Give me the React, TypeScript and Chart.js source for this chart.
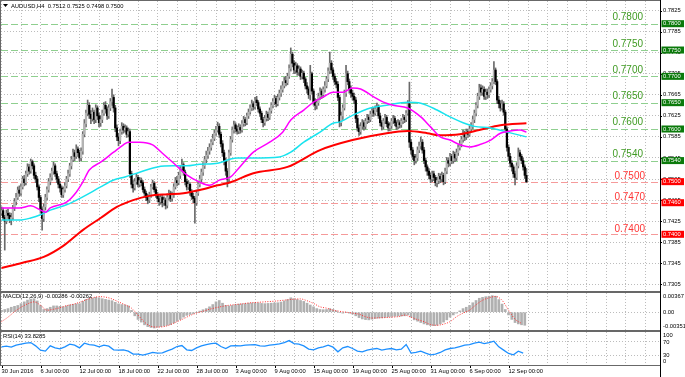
import React, { useEffect, useRef } from 'react';
import { Chart, registerables } from 'chart.js';

Chart.register(...registerables);

const FONT = "'Liberation Sans', Arial, sans-serif";

// ---------- data (prices in pips: 7445 = 0.7445) ----------
const titleText = 'AUDUSD,H4  0.7512 0.7525 0.7498 0.7500';
const firstOpen = 7440;
const closes = [
  7445, 7432, 7425, 7440, 7436, 7428, 7432, 7450, 7462, 7470,
  7484, 7478, 7490, 7505, 7498, 7515, 7528, 7520, 7538, 7530,
  7512, 7505, 7490, 7470, 7448, 7430, 7452, 7470, 7485, 7500,
  7508, 7520, 7530, 7515, 7505, 7495, 7488, 7475, 7485, 7492,
  7505, 7515, 7530, 7542, 7555, 7548, 7562, 7555, 7545, 7558,
  7590, 7610, 7630, 7645, 7628, 7620, 7632, 7618, 7640, 7625,
  7612, 7618, 7630, 7645, 7638, 7625, 7640, 7652, 7660, 7640,
  7602, 7585, 7578, 7595, 7605, 7598, 7602, 7590, 7595, 7515,
  7495, 7488, 7500, 7508, 7495, 7502, 7498, 7485, 7478, 7470,
  7465, 7475, 7490, 7497, 7485, 7475, 7468, 7462, 7470, 7460,
  7465, 7455, 7470, 7478, 7468, 7475, 7490, 7502, 7498, 7512,
  7525, 7532, 7518, 7500, 7490, 7495, 7480, 7472, 7468, 7460,
  7478, 7495, 7505, 7518, 7530, 7542, 7550, 7558, 7565, 7575,
  7582, 7592, 7598, 7605, 7590, 7572, 7555, 7540, 7520, 7505,
  7555, 7580, 7598, 7608, 7600, 7596, 7603, 7598, 7610, 7618,
  7612, 7625, 7632, 7640, 7648, 7642, 7655, 7650, 7638, 7630,
  7618, 7612, 7620, 7628, 7622, 7635, 7645, 7652, 7658, 7648,
  7660, 7668, 7675, 7682, 7692, 7688, 7700, 7715, 7742, 7725,
  7712, 7720, 7708, 7714, 7700, 7706, 7695, 7682, 7676, 7665,
  7705, 7672, 7652, 7645, 7650, 7662, 7672, 7665, 7675, 7682,
  7695, 7710, 7725, 7712, 7700, 7690, 7685, 7660, 7612, 7625,
  7640, 7668, 7705, 7690, 7675, 7668, 7662, 7655, 7620, 7602,
  7595, 7605, 7612, 7605, 7615, 7622, 7618, 7628, 7635, 7630,
  7638, 7642, 7625, 7612, 7605, 7615, 7622, 7610, 7602, 7606,
  7615, 7620, 7612, 7605, 7612, 7608, 7615, 7622, 7618, 7630,
  7648, 7575, 7560, 7548, 7540, 7545, 7560, 7568, 7575, 7560,
  7540, 7528, 7520, 7512, 7505, 7515, 7508, 7498, 7502, 7510,
  7505, 7512, 7500, 7520, 7540, 7535, 7548, 7540, 7552, 7545,
  7555, 7565, 7572, 7580, 7592, 7585, 7595, 7590, 7600, 7605,
  7618, 7630, 7645, 7662, 7678, 7670, 7675, 7662, 7670, 7665,
  7675, 7682, 7690, 7712, 7690, 7655, 7648, 7640, 7648, 7632,
  7600, 7565, 7548, 7535, 7528, 7515, 7508, 7530, 7555, 7548,
  7540, 7528, 7512, 7500,
];
const highs = [
  7452, 7450, 7436, 7446, 7448, 7441, 7440, 7455, 7468, 7478,
  7490, 7492, 7496, 7510, 7512, 7520, 7534, 7533, 7543, 7541,
  7534, 7518, 7510, 7494, 7474, 7452, 7458, 7476, 7490, 7506,
  7515, 7526, 7537, 7534, 7520, 7510, 7500, 7492, 7490, 7498,
  7510, 7522, 7535, 7548, 7562, 7560, 7570, 7566, 7560, 7564,
  7595, 7618, 7636, 7655, 7650, 7635, 7640, 7636, 7646, 7644,
  7630, 7625, 7636, 7650, 7652, 7642, 7646, 7658, 7676, 7665,
  7645, 7608, 7592, 7600, 7612, 7610, 7608, 7606, 7602, 7600,
  7520, 7502, 7506, 7515, 7512, 7508, 7507, 7502, 7490, 7482,
  7476, 7480, 7495, 7503, 7500, 7490, 7480, 7473, 7476, 7474,
  7471, 7469, 7476, 7484, 7482, 7480, 7496, 7508, 7510, 7518,
  7530, 7543, 7536, 7522, 7505, 7502, 7498, 7485, 7478, 7472,
  7484, 7500, 7512, 7524, 7536, 7548, 7558, 7565, 7572, 7580,
  7590, 7598, 7605, 7613, 7610, 7594, 7578, 7560, 7545, 7525,
  7560, 7586, 7604, 7615, 7612, 7606, 7610, 7608, 7616, 7624,
  7622, 7630, 7638, 7646, 7655, 7652, 7660, 7662, 7654, 7642,
  7634, 7622, 7626, 7634, 7632, 7640, 7650, 7658, 7664, 7662,
  7666, 7674, 7682, 7690, 7698, 7700, 7706, 7722, 7754, 7746,
  7730, 7727, 7724, 7720, 7718, 7712, 7710, 7698, 7688, 7680,
  7721, 7708, 7676, 7658, 7656, 7668, 7678, 7676, 7680, 7690,
  7700, 7716, 7746, 7730, 7716, 7705, 7696, 7690, 7664, 7632,
  7646, 7674, 7721, 7710, 7695, 7682, 7674, 7668, 7660, 7626,
  7608, 7612, 7618, 7616, 7620, 7628, 7627, 7634, 7641, 7640,
  7644, 7649, 7646, 7630, 7616, 7620, 7628, 7626, 7614, 7612,
  7620, 7626, 7624, 7616, 7618, 7616, 7620, 7628, 7626, 7635,
  7654, 7689, 7580, 7565, 7552, 7552, 7566, 7575, 7585, 7580,
  7565, 7545, 7532, 7525, 7516, 7520, 7520, 7512, 7508, 7516,
  7515, 7518, 7516, 7526, 7546, 7545, 7554, 7552, 7558, 7556,
  7562, 7570, 7578, 7586, 7598, 7596, 7600, 7600, 7606, 7612,
  7624, 7636, 7650, 7668, 7685, 7684, 7682, 7680, 7676, 7676,
  7680, 7688, 7696, 7728, 7716, 7694, 7662, 7654, 7655, 7652,
  7636, 7604, 7570, 7554, 7540, 7532, 7520, 7536, 7564, 7560,
  7552, 7545, 7532, 7525,
];
const lows = [
  7436, 7428, 7370, 7420, 7430, 7422, 7418, 7428, 7445, 7456,
  7466, 7472, 7474, 7486, 7492, 7494, 7510, 7514, 7516, 7524,
  7506, 7498, 7484, 7462, 7440, 7408, 7424, 7446, 7465, 7480,
  7494, 7503, 7514, 7510, 7498, 7488, 7480, 7470, 7470, 7480,
  7488, 7500, 7510, 7524, 7538, 7540, 7544, 7548, 7538, 7540,
  7552, 7585, 7604, 7625, 7620, 7610, 7615, 7610, 7612, 7618,
  7604, 7605, 7612, 7626, 7630, 7618, 7620, 7635, 7645, 7632,
  7595, 7578, 7568, 7572, 7590, 7592, 7594, 7584, 7585, 7508,
  7488, 7480, 7484, 7495, 7490, 7490, 7492, 7480, 7472, 7464,
  7458, 7460, 7470, 7486, 7480, 7470, 7462, 7455, 7457, 7452,
  7455, 7448, 7450, 7465, 7462, 7463, 7470, 7486, 7492, 7494,
  7506, 7520, 7512, 7494, 7484, 7485, 7474, 7466, 7460, 7421,
  7455, 7474, 7490, 7500, 7512, 7525, 7536, 7544, 7552, 7560,
  7570, 7578, 7588, 7594, 7584, 7566, 7548, 7532, 7512, 7490,
  7500, 7550, 7575, 7592, 7594, 7590, 7591, 7592, 7594, 7605,
  7606, 7608, 7620, 7628, 7635, 7636, 7638, 7644, 7632, 7624,
  7612, 7604, 7607, 7615, 7616, 7618, 7630, 7640, 7646, 7642,
  7644, 7655, 7662, 7670, 7678, 7682, 7684, 7696, 7710, 7718,
  7705, 7706, 7702, 7702, 7694, 7695, 7688, 7676, 7668, 7658,
  7655, 7666, 7645, 7636, 7638, 7645, 7656, 7658, 7660, 7670,
  7678, 7690, 7705, 7706, 7694, 7684, 7678, 7654, 7604, 7606,
  7618, 7636, 7662, 7684, 7668, 7660, 7655, 7648, 7612, 7596,
  7588, 7590, 7600, 7598, 7600, 7610, 7612, 7614, 7624, 7624,
  7626, 7633, 7620, 7606, 7598, 7600, 7610, 7604, 7596, 7597,
  7601, 7610, 7606, 7599, 7600, 7602, 7603, 7610, 7612, 7614,
  7626, 7565, 7552, 7542, 7532, 7535, 7540, 7555, 7562, 7554,
  7534, 7520, 7512, 7505, 7498, 7500, 7502, 7492, 7490, 7496,
  7498, 7500, 7494, 7496, 7515, 7528, 7530, 7534, 7535, 7538,
  7540, 7550, 7560, 7566, 7575, 7578, 7580, 7584, 7586, 7595,
  7600, 7612, 7625, 7640, 7656, 7664, 7664, 7656, 7656, 7658,
  7660, 7670, 7676, 7686, 7684, 7648, 7640, 7634, 7636, 7626,
  7594, 7558, 7540, 7528, 7520, 7508, 7494, 7504, 7526, 7542,
  7534, 7522, 7506, 7498,
];

// moving averages (bar index, value in pips)
const maFastBars = [0, 11, 18, 24, 27, 30, 40, 46, 50, 54, 61, 69, 75, 78, 85, 93, 99, 106, 114, 122, 128, 134, 141, 145, 155, 165, 173, 178, 186, 192, 198, 204, 210, 216, 221, 229, 235, 241, 250, 258, 264, 270, 276, 282, 288, 294, 301, 307, 313, 319, 323];
const maFastValues = [7450, 7450, 7454, 7446, 7442, 7450, 7461, 7480, 7499, 7522, 7537, 7556, 7570, 7575, 7575, 7570, 7554, 7535, 7513, 7499, 7493, 7503, 7509, 7522, 7556, 7575, 7594, 7617, 7636, 7651, 7661, 7670, 7670, 7678, 7676, 7661, 7651, 7645, 7640, 7623, 7604, 7585, 7579, 7570, 7566, 7570, 7579, 7592, 7596, 7598, 7594];
const maMidBars = [0, 11, 18, 24, 30, 40, 50, 61, 69, 76, 85, 96, 106, 114, 122, 133, 141, 145, 155, 171, 178, 186, 196, 204, 208, 216, 227, 237, 250, 258, 268, 276, 284, 291, 301, 310, 323];
const maMidValues = [7427, 7427, 7431, 7437, 7446, 7456, 7471, 7490, 7503, 7509, 7518, 7528, 7530, 7530, 7533, 7535, 7543, 7545, 7545, 7547, 7556, 7575, 7594, 7611, 7613, 7626, 7640, 7645, 7651, 7649, 7636, 7623, 7612, 7605, 7602, 7595, 7585];
const maSlowBars = [0, 13, 26, 38, 50, 61, 71, 81, 91, 102, 112, 122, 133, 141, 155, 176, 196, 216, 237, 250, 262, 270, 282, 294, 307, 323];
const maSlowValues = [7336, 7346, 7357, 7378, 7408, 7431, 7452, 7465, 7473, 7476, 7478, 7484, 7493, 7499, 7516, 7528, 7560, 7579, 7592, 7596, 7592, 7588, 7590, 7598, 7607, 7611];

// MACD main (every 2nd bar) and signal (every 4th bar), in 1e-5
const macdStep = 2;
const macdMain = [
  40, 60, 80, 110, 130, 150, 190, 230, 270, 290,
  300, 250, 150, 60, 80, 110, 140, 140, 130, 120,
  140, 160, 175, 185, 190, 240, 285, 300, 310, 330,
  320, 300, 285, 270, 255, 220, 185, 170, 160, 140,
  40, -80, -160, -220, -280, -320, -340, -351, -335, -320,
  -305, -290, -275, -240, -200, -160, -110, -70, -50, -30,
  -5, 25, 55, 80, 120, 170, 230, 260, 200, 150,
  140, 150, 170, 180, 185, 190, 200, 205, 210, 205,
  195, 190, 195, 200, 205, 210, 225, 250, 280, 320,
  300, 280, 260, 240, 200, 160, 120, 80, 60, 55,
  60, 80, 60, 30, -10, -20, 0, -20, -40, -80,
  -120, -150, -165, -170, -155, -140, -130, -125, -115, -105,
  -95, -90, -85, -85, -80, -60, -110, -170, -200, -230,
  -260, -280, -295, -300, -290, -260, -220, -170, -110, -60,
  -20, 30, 80, 110, 150, 210, 260, 310, 330, 345,
  355, 367, 355, 280, 180, 60, -60, -160, -230, -260,
  -280, -290,
];
const signalStep = 4;
const macdSignal = [
  -210, -110, 10, 110, 185, 230, 155, 45, 65, 100,
  145, 175, 220, 275, 320, 345, 335, 295, 230, 165,
  90, -65, -220, -315, -330, -320, -275, -210, -145, -75,
  -20, 20, 65, 100, 130, 155, 170, 185, 205, 215,
  225, 235, 245, 260, 275, 290, 295, 255, 195, 120,
  90, 45, 20, 0, -20, -45, -100, -130, -125, -120,
  -110, -100, -65, -110, -165, -210, -275, -290, -265, -210,
  -100, -20, 45, 165, 265, 320, 350, 265, 45, -155,
  -250,
];
// RSI(14) every 3rd bar
const rsiStep = 3;
const rsiValues = [
  55, 57, 54, 60, 63, 66, 68, 58, 45, 42,
  58, 52, 49, 55, 63, 60, 52, 66, 62, 60,
  55, 60, 57, 46, 45, 46, 42, 33, 33, 30,
  34, 38, 36, 37, 43, 48, 56, 59, 46, 44,
  52, 58, 62, 65, 66, 56, 50, 58, 59, 58,
  60, 61, 62, 58, 57, 60, 62, 64, 68, 74,
  65, 63, 58, 48, 46, 52, 55, 60, 54, 40,
  52, 56, 50, 42, 40, 45, 48, 50, 45, 48,
  50, 46, 48, 62, 36, 38, 42, 36, 31, 33,
  38, 46, 50, 52, 56, 60, 62, 66, 69, 65,
  68, 72, 55, 45, 35, 31, 42, 36,
];

const xLabelBars = [0, 24, 48, 72, 96, 120, 144, 168, 192, 216, 240, 264, 288, 312];
const xLabels = ['30 Jun 2016', '6 Jul 00:00', '12 Jul 00:00', '18 Jul 00:00', '22 Jul 00:00', '28 Jul 00:00', '3 Aug 00:00', '9 Aug 00:00', '15 Aug 00:00', '19 Aug 00:00', '25 Aug 00:00', '31 Aug 00:00', '6 Sep 00:00', '12 Sep 00:00'];
const priceTicks = [0.7825, 0.7785, 0.7745, 0.7705, 0.7665, 0.7625, 0.7585, 0.7545, 0.7505, 0.7465, 0.7425, 0.7385, 0.7345, 0.7305];
const greenLevels = [0.78, 0.775, 0.77, 0.765, 0.76, 0.754];
const greenLevelTexts = ['0.7800', '0.7750', '0.7700', '0.7650', '0.7600', '0.7540'];
const redLevels = [0.75, 0.746, 0.74];
const redLevelTexts = ['0.7500', '0.7470', '0.7400'];
const redLevelBoxTexts = ['0.7500', '0.7460', '0.7400'];
const macdTitle = 'MACD(12,26,9) -0.00286 -0.00262';
const macdTickValues = [0.00367, 0, -0.00351];
const macdTickTexts = ['0.00367', '0.00', '-0.00351'];
const rsiTitle = 'RSI(14) 33.8285';
const rsiTickValues = [100, 70, 30, 0];
const rsiGridValues = [70, 30];

// ---------- layout constants ----------
const W = 685;
const X_MIN = -0.31;
const X_MAX = 405.2;
const AXIS_W = 25;
const GRID = '#bcbcbc';
const P = (v: number) => v / 10000;

const bars = closes.map((_, i) => i);
const opens = closes.map((_, i) => (i === 0 ? firstOpen : closes[i - 1]));
const gridStep = (xLabelBars[1] - xLabelBars[0]) / 2;
const gridBars: number[] = [];
for (let b = 0; b <= X_MAX; b += gridStep) gridBars.push(b);

function xScale(extra: any = {}) {
  return {
    type: 'linear',
    min: X_MIN,
    max: X_MAX,
    offset: false,
    afterBuildTicks: (s: any) => { s.ticks = gridBars.map((v) => ({ value: v })); },
    afterFit: (s: any) => { s.height = 0; },
    ticks: { display: false },
    grid: { color: GRID, drawTicks: false, offset: false, lineWidth: 1 },
    border: { display: false, dash: [1, 2] },
    ...extra,
  };
}
function yScale(min: number, max: number, gridVals: number[]) {
  return {
    type: 'linear',
    position: 'right',
    min,
    max,
    beginAtZero: false,
    afterBuildTicks: (s: any) => { s.ticks = gridVals.map((v) => ({ value: v })); },
    afterFit: (s: any) => { s.width = AXIS_W; },
    ticks: { display: false },
    grid: { color: GRID, drawTicks: false, lineWidth: 1 },
    border: { display: false, dash: [1, 2] },
  };
}

const framePlugin = {
  id: 'frame',
  afterDraw(chart: any) {
    const { ctx, chartArea: a } = chart;
    ctx.save();
    ctx.strokeStyle = '#686868';
    ctx.lineWidth = 1;
    ctx.strokeRect(a.left - 0.5, a.top - 0.5, a.right - a.left + 1, a.bottom - a.top + 1);
    ctx.strokeStyle = '#000';
    ctx.beginPath();
    ctx.moveTo(a.right + 0.5, 0);
    ctx.lineTo(a.right + 0.5, chart.height);
    ctx.stroke();
    ctx.restore();
  },
};

function sideLabels(values: number[], texts: string[], margin: number) {
  return {
    id: 'sideLabels',
    afterDraw(chart: any) {
      const { ctx, chartArea: a } = chart;
      const y = chart.scales.y;
      ctx.save();
      ctx.font = `5.8px ${FONT}`;
      ctx.fillStyle = '#000';
      ctx.textBaseline = 'middle';
      ctx.textAlign = 'left';
      values.forEach((v, i) => {
        let py = y.getPixelForValue(v);
        py = Math.min(Math.max(py, a.top + margin), a.bottom - margin);
        ctx.fillText(texts[i], a.right + 3, py);
      });
      ctx.restore();
    },
  };
}

function panelTitle(text: string, y: number) {
  return {
    id: 'panelTitle',
    afterDraw(chart: any) {
      const { ctx, chartArea: a } = chart;
      ctx.save();
      ctx.font = `5.8px ${FONT}`;
      ctx.fillStyle = '#000';
      ctx.textBaseline = 'middle';
      ctx.fillText(text, a.left + 2, y);
      ctx.restore();
    },
  };
}

const mainPlugin = {
  id: 'mainDeco',
  beforeDatasetsDraw(chart: any) {
    const { ctx, chartArea: a } = chart;
    const y = chart.scales.y;
    ctx.save();
    ctx.lineWidth = 1;
    ctx.setLineDash([7, 3]);
    const drawLevel = (v: number, color: string) => {
      const py = Math.round(y.getPixelForValue(v)) + 0.5;
      ctx.strokeStyle = color;
      ctx.beginPath();
      ctx.moveTo(a.left, py);
      ctx.lineTo(a.right, py);
      ctx.stroke();
    };
    greenLevels.forEach((v) => drawLevel(v, '#8fcf8f'));
    redLevels.forEach((v) => drawLevel(v, '#f59a9a'));
    ctx.setLineDash([]);
    ctx.font = `10px ${FONT}`;
    ctx.textAlign = 'right';
    ctx.textBaseline = 'alphabetic';
    ctx.fillStyle = '#3f9a22';
    greenLevels.forEach((v, i) => ctx.fillText(greenLevelTexts[i], a.right - 17, y.getPixelForValue(v) - 3.5));
    ctx.fillStyle = '#ff3535';
    redLevels.forEach((v, i) => ctx.fillText(redLevelTexts[i], a.right - 15, y.getPixelForValue(v) - 2.5));
    ctx.restore();
  },
  afterDraw(chart: any) {
    const { ctx, chartArea: a } = chart;
    const y = chart.scales.y;
    ctx.save();
    ctx.font = `5.8px ${FONT}`;
    ctx.textBaseline = 'middle';
    ctx.textAlign = 'left';
    ctx.fillStyle = '#000';
    priceTicks.forEach((v) => {
      const py = y.getPixelForValue(v);
      ctx.fillRect(a.right, Math.round(py), 2, 1);
      ctx.fillText(v.toFixed(4), a.right + 3, py);
    });
    const box = (v: number, text: string, fill: string) => {
      const py = y.getPixelForValue(v);
      ctx.fillStyle = fill;
      ctx.fillRect(a.right + 1.5, py - 3.5, 22.5, 7);
      ctx.fillStyle = '#fff';
      ctx.fillText(text, a.right + 3, py);
    };
    greenLevels.forEach((v, i) => box(v, greenLevelTexts[i], '#0b7a0b'));
    redLevels.forEach((v, i) => box(v, redLevelBoxTexts[i], '#ff0000'));
    // symbol title
    ctx.fillStyle = '#000';
    ctx.beginPath();
    ctx.moveTo(3, 4);
    ctx.lineTo(8, 4);
    ctx.lineTo(5.5, 7);
    ctx.closePath();
    ctx.fill();
    ctx.fillText(titleText, 11, 6);
    ctx.restore();
  },
};

function mainConfig(): any {
  return {
    type: 'line',
    data: {
      datasets: [
        {
          type: 'line', label: 'MA fast', order: 0,
          data: maFastBars.map((b, k) => ({ x: b, y: P(maFastValues[k]) })),
          borderColor: '#ff00ff', borderWidth: 1.5, pointRadius: 0, cubicInterpolationMode: 'monotone',
        },
        {
          type: 'line', label: 'MA mid', order: 0,
          data: maMidBars.map((b, k) => ({ x: b, y: P(maMidValues[k]) })),
          borderColor: '#19e3ee', borderWidth: 1.5, pointRadius: 0, cubicInterpolationMode: 'monotone',
        },
        {
          type: 'line', label: 'MA slow', order: 0,
          data: maSlowBars.map((b, k) => ({ x: b, y: P(maSlowValues[k]) })),
          borderColor: '#ff0000', borderWidth: 2, pointRadius: 0, cubicInterpolationMode: 'monotone',
        },
        {
          type: 'bar', label: 'bodies', order: 1, grouped: false,
          data: bars.map((i) => ({ x: i, y: [P(opens[i]), P(closes[i])] })),
          backgroundColor: bars.map((i) => (closes[i] >= opens[i] ? '#b4b4b4' : '#000000')),
          barThickness: 1.6,
        },
        {
          type: 'bar', label: 'wicks', order: 2, grouped: false,
          data: bars.map((i) => ({ x: i, y: [P(lows[i]), P(highs[i])] })),
          backgroundColor: '#6a6a6a',
          barThickness: 1,
        },
      ],
    },
    options: {
      responsive: false, maintainAspectRatio: false, animation: false, devicePixelRatio: 1, events: [],
      layout: { padding: { left: 1, top: 1, right: 0, bottom: 1 } },
      plugins: { legend: { display: false }, tooltip: { enabled: false } },
      scales: {
        x: xScale(),
        y: yScale(0.729231, 0.784311, priceTicks),
      },
    },
    plugins: [mainPlugin, framePlugin],
  };
}

function macdConfig(): any {
  return {
    type: 'line',
    data: {
      datasets: [
        {
          type: 'line', label: 'signal', order: 0,
          data: macdSignal.map((v, k) => ({ x: k * signalStep, y: v / 100000 })),
          borderColor: '#ff3030', borderWidth: 1, borderDash: [1, 1.5], pointRadius: 0, cubicInterpolationMode: 'monotone',
        },
        {
          type: 'bar', label: 'macd', order: 1,
          data: macdMain.map((v, k) => ({ x: k * macdStep, y: v / 100000 })),
          backgroundColor: '#b0b0b0', barThickness: 2,
        },
      ],
    },
    options: {
      responsive: false, maintainAspectRatio: false, animation: false, devicePixelRatio: 1, events: [],
      layout: { padding: { left: 1, top: 1, right: 0, bottom: 1 } },
      plugins: { legend: { display: false }, tooltip: { enabled: false } },
      scales: {
        x: xScale(),
        y: yScale(-0.003956, 0.004267, [0]),
      },
    },
    plugins: [framePlugin, sideLabels(macdTickValues, macdTickTexts, 3.5), panelTitle(macdTitle, 4)],
  };
}

const xLabelPlugin = {
  id: 'xLabels',
  afterDraw(chart: any) {
    const { ctx, chartArea: a } = chart;
    const x = chart.scales.x;
    ctx.save();
    ctx.font = `5.8px ${FONT}`;
    ctx.fillStyle = '#000';
    ctx.textBaseline = 'middle';
    ctx.textAlign = 'left';
    xLabelBars.forEach((b, i) => {
      const px = x.getPixelForValue(b);
      ctx.fillRect(Math.round(px), a.bottom + 1, 1, 2);
      ctx.fillText(xLabels[i], px, a.bottom + 6.5);
    });
    ctx.restore();
  },
};

function rsiConfig(): any {
  return {
    type: 'line',
    data: {
      datasets: [
        {
          type: 'line', label: 'rsi',
          data: rsiValues.map((v, k) => ({ x: k * rsiStep, y: v })),
          borderColor: '#1e90ff', borderWidth: 1.3, pointRadius: 0,
        },
      ],
    },
    options: {
      responsive: false, maintainAspectRatio: false, animation: false, devicePixelRatio: 1, events: [],
      layout: { padding: { left: 1, top: 1, right: 0, bottom: 0 } },
      plugins: { legend: { display: false }, tooltip: { enabled: false } },
      scales: {
        x: xScale({ afterFit: (s: any) => { s.height = 12; } }),
        y: yScale(0, 100, rsiGridValues),
      },
    },
    plugins: [framePlugin, sideLabels(rsiTickValues, rsiTickValues.map(String), 3.5), panelTitle(rsiTitle, 5.5), xLabelPlugin],
  };
}

export default function App() {
  const mainRef = useRef<HTMLCanvasElement>(null);
  const macdRef = useRef<HTMLCanvasElement>(null);
  const rsiRef = useRef<HTMLCanvasElement>(null);
  useEffect(() => {
    const charts = [
      new Chart(mainRef.current as HTMLCanvasElement, mainConfig()),
      new Chart(macdRef.current as HTMLCanvasElement, macdConfig()),
      new Chart(rsiRef.current as HTMLCanvasElement, rsiConfig()),
    ];
    return () => charts.forEach((c) => c.destroy());
  }, []);
  return (
    <div style={{ position: 'absolute', left: 0, top: 0, width: W, height: 377, background: '#fff', overflow: 'hidden' }}>
      <canvas ref={mainRef} width={W} height={292} style={{ position: 'absolute', left: 0, top: 0, width: W, height: 292 }} />
      <canvas ref={macdRef} width={W} height={39} style={{ position: 'absolute', left: 0, top: 292, width: W, height: 39 }} />
      <canvas ref={rsiRef} width={W} height={46} style={{ position: 'absolute', left: 0, top: 331, width: W, height: 46 }} />
    </div>
  );
}
